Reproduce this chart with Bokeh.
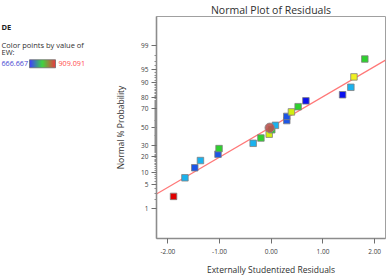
from statistics import NormalDist
from bokeh.plotting import figure
from bokeh.layouts import row
from bokeh.models import FixedTicker, NumeralTickFormatter, ColumnDataSource, Range1d
from bokeh.core.properties import value
from bokeh.embed import file_html
from bokeh.resources import INLINE

# ---------------- data ----------------
residuals = [-1.89, -1.67, -1.48, -1.37, -1.03, -1.01, -0.35, -0.20, -0.04, 0.01,
             0.08, 0.30, 0.30, 0.39, 0.52, 0.67, 1.38, 1.54, 1.60, 1.81]
probabilities = [2.4, 7.4, 12.3, 17.0, 22.0, 27.0, 32.2, 37.8, 42.0, 47.0,
                 52.0, 57.4, 62.0, 66.8, 72.0, 77.3, 82.2, 87.2, 92.4, 97.4]
point_colors = ["#e00000", "#1ab2ee", "#1d55e6", "#1ab2ee", "#1d55e6", "#2ed12e",
                "#1ab2ee", "#2ed12e", "#d2ee10", "#2ed12e", "#1ab2ee", "#1d55e6",
                "#1d55e6", "#d2ee10", "#2ed12e", "#0a10ee", "#0a10ee", "#1ab2ee",
                "#f0f020", "#2ed12e"]
highlight_residual = [-0.03]
highlight_probability = [49.2]
fit_residuals = [-2.22, 2.21]
fit_probabilities = [2.8, 97.2]
prob_ticks = [1, 5, 10, 20, 30, 50, 70, 80, 90, 95, 99]
prob_minor = [p for p in range(2, 99) if p not in prob_ticks]
x_ticks = [-2, -1, 0, 1, 2]
x_limits = (-2.22, 2.21)
prob_limits = (0.074, 99.92)
legend_title = "DE"
legend_lines = ["Color points by value of", "EW:"]
ew_min_label = "666.667"
ew_max_label = "909.091"

nd = NormalDist()
def zq(p):
    return round(nd.inv_cdf(p / 100.0), 6)

FONT = "Open Sans"
H = 277
LW = 100            # width of the left legend panel
MW = 287            # width of the main chart
FL, FR, FT, FB = 56, 285, 13, 242   # frame box inside the main chart

# ---------------- main chart ----------------
p = figure(width=MW, height=H, output_backend="svg", toolbar_location=None,
           x_range=Range1d(*x_limits), y_range=Range1d(zq(prob_limits[0]), zq(prob_limits[1])),
           min_border_left=FL, min_border_right=MW - FR, min_border_top=FT,
           min_border_bottom=H - FB, title="Normal Plot of Residuals")
p.title.align = "center"
p.title.text_font = FONT
p.title.text_font_size = "10.5px"
p.title.text_line_height = 1.0
p.title.text_font_style = "normal"
p.title.text_color = "#303030"
p.title.standoff = 0
p.xgrid.visible = False
p.ygrid.visible = False
p.outline_line_color = "#a0a0a0"
p.outline_line_width = 1

p.line(fit_residuals, [zq(v) for v in fit_probabilities],
       line_color="#ff7878", line_width=1.2)

src = ColumnDataSource(dict(x=residuals, y=[zq(v) for v in probabilities], c=point_colors))
p.scatter("x", "y", source=src, marker="square", size=6.5, fill_color="c",
          line_color="#808080", line_width=0.8)
p.scatter(highlight_residual, [zq(v) for v in highlight_probability], marker="circle",
          size=9.5, fill_color="#b8544f", fill_alpha=0.9, line_color="#8a8a8a", line_width=0.8)

p.xaxis.ticker = FixedTicker(ticks=x_ticks)
p.xaxis.formatter = NumeralTickFormatter(format="0.00")
p.yaxis.ticker = FixedTicker(ticks=[zq(v) for v in prob_ticks],
                             minor_ticks=[zq(v) for v in prob_minor])
p.yaxis.major_label_overrides = {zq(v): str(v) for v in prob_ticks}
for ax in (p.xaxis[0], p.yaxis[0]):
    ax.axis_line_color = "#8c8c8c"
    ax.axis_line_width = 1.6
    ax.major_tick_line_color = "#6e6e6e"
    ax.major_tick_in = 0
    ax.major_tick_out = 5
    ax.major_label_text_font = FONT
    ax.major_label_text_font_size = "6.5px"
    ax.major_label_text_color = "#404040"
    ax.axis_label_text_font = FONT
    ax.axis_label_text_font_size = "8.5px"
    ax.axis_label_text_font_style = "normal"
    ax.axis_label_text_color = "#303030"
p.xaxis.minor_tick_line_color = None
p.yaxis.minor_tick_line_color = "#8c8c8c"
p.yaxis.minor_tick_in = 0
p.yaxis.minor_tick_out = 2
p.xaxis.major_label_standoff = 5
p.yaxis.major_label_standoff = 3
p.xaxis.axis_label = "Externally Studentized Residuals"
p.yaxis.axis_label = "Normal % Probability"
p.xaxis.axis_label_standoff = 7
p.yaxis.axis_label_standoff = 12

# ---------------- left legend panel ----------------
lg = figure(width=LW, height=H, output_backend="svg", toolbar_location=None,
            x_range=Range1d(0, LW), y_range=Range1d(H, 0), min_border=0)
lg.axis.visible = False
lg.grid.visible = False
lg.outline_line_color = None

lg.text(x=[1], y=[13], text=[legend_title], text_font=value(FONT), text_font_size="7.5px",
        text_font_style="bold", text_color="#202020", text_baseline="middle")
lg.text(x=[1, 1], y=[35, 44], text=legend_lines, text_font=value(FONT),
        text_font_size="7.5px", text_color="#303030", text_baseline="middle")
lg.text(x=[1], y=[59], text=[ew_min_label], text_font=value(FONT), text_font_size="7.2px",
        text_color="#4646d2", text_baseline="middle")
lg.text(x=[58], y=[59], text=[ew_max_label], text_font=value(FONT), text_font_size="7.2px",
        text_color="#ff4a4a", text_baseline="middle")

stops = [(0, 0, 255), (0, 200, 0), (220, 0, 0)]
n = 26
gx0, gy0, gy1 = 29, 54, 64
lefts, rights, cols = [], [], []
for i in range(n):
    t = i / (n - 1) * 2
    k = min(int(t), 1)
    f = t - k
    a, b = stops[k], stops[k + 1]
    cols.append("#%02x%02x%02x" % tuple(int(a[j] + (b[j] - a[j]) * f) for j in range(3)))
    lefts.append(gx0 + i)
    rights.append(gx0 + i + 1)
lg.quad(left=lefts, right=rights, top=[gy0] * n, bottom=[gy1] * n, fill_color=cols,
        line_color=None)
lg.quad(left=[gx0], right=[gx0 + n], top=[gy0], bottom=[gy1], fill_alpha=0,
        line_color="#707070", line_width=0.8)

layout = row(lg, p, spacing=0)
open("out.html", "w").write(file_html(layout, INLINE))
